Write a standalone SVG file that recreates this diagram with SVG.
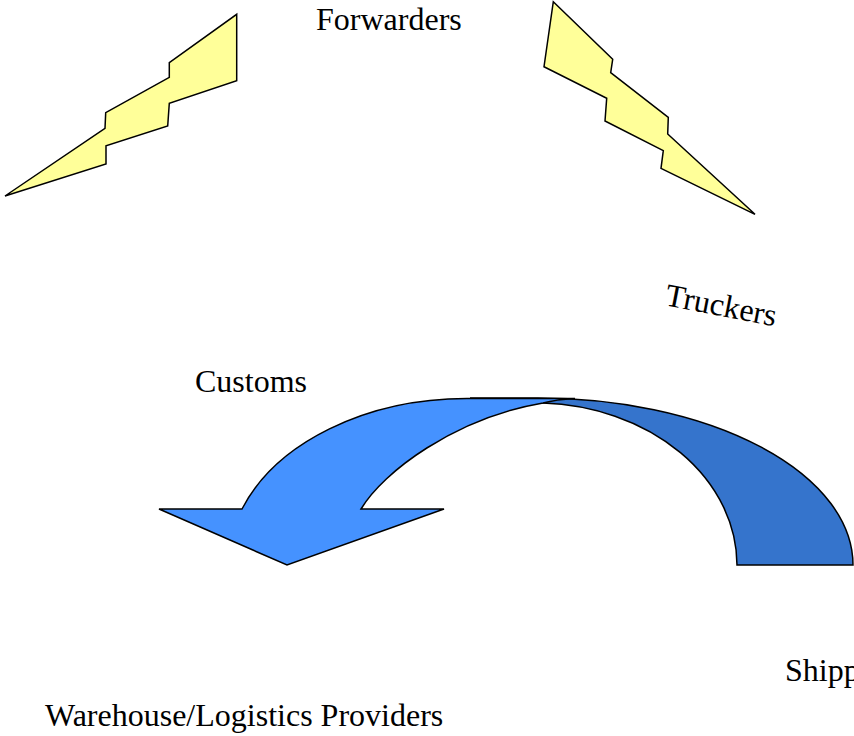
<svg xmlns="http://www.w3.org/2000/svg" width="854" height="736" viewBox="0 0 854 736">
<style>
.lbl{font-family:"Liberation Serif","Times New Roman",serif;font-size:32px;fill:#000}
.bolt{fill:#FFFF99;stroke:#000;stroke-width:1.5;stroke-linejoin:miter}
.arr{stroke:#000;stroke-width:1.5;stroke-linejoin:miter}
</style>
<rect width="854" height="736" fill="#fff"/>
<g id="bolt-left">
<polygon class="bolt" points="236.7,14.3 236.7,80.7 169.3,103.3 167.7,126 106,145.7 106,164 5,196 105,128.3 105.7,112.7 169.3,77.3 169.3,62.7"/>
</g>
<g id="bolt-right">
<polygon class="bolt" points="553.3,1.7 612.7,59.3 610.7,72.7 668.3,117.3 667.7,134 755,214.3 661,168.3 663.3,150.7 605,121 606.7,98.3 544,66.7"/>
</g>
<g id="connectors">
<path id="arrow-back" class="arr" fill="#3574CC" d="M737,565 L853,565 A315,167 0 0 0 538,398 L470,398 L543,403 A202,162.5 0 0 1 737,565 Z"/>
<path id="arrow-front" class="arr" fill="#4592FF" d="M159,509 L242,509 A239,167 0 0 1 467,398.5 L575,398.5 Q556,399.5 543,403 C455,418 383,472 361,509 L444,509 L287,565 Z"/>
</g>
<g id="label-forwarders"><text class="lbl" x="316" y="30">Forwarders</text></g>
<g id="label-truckers"><text class="lbl" transform="translate(664,305) rotate(11)">Truckers</text></g>
<g id="label-customs"><text class="lbl" x="195" y="392">Customs</text></g>
<g id="label-shippers"><text class="lbl" x="785" y="681">Shipp</text></g>
<g id="label-warehouse"><text class="lbl" x="45" y="726">Warehouse/Logistics Providers</text></g>
</svg>
